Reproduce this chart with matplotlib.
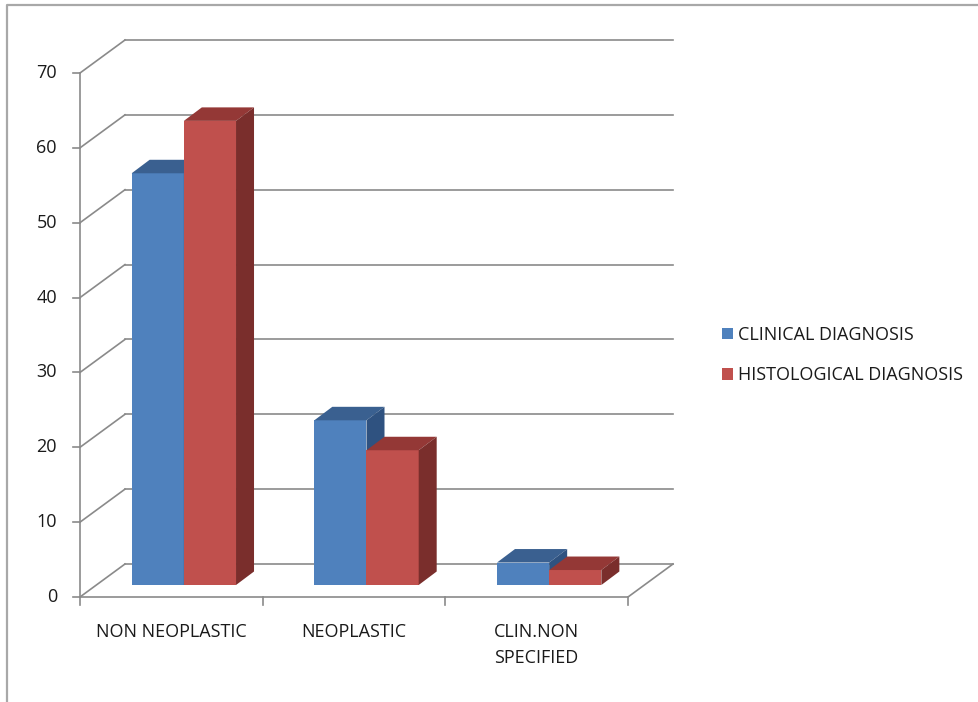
import matplotlib.pyplot as plt
from matplotlib.patches import Rectangle, Polygon, Patch
from matplotlib.lines import Line2D

# data
categories = ['NON NEOPLASTIC', 'NEOPLASTIC', 'CLIN.NON\nSPECIFIED']
clinical = [55, 22, 3]
histological = [62, 18, 2]
series_names = ['CLINICAL DIAGNOSIS', 'HISTOLOGICAL DIAGNOSIS']
y_ticks = [0, 10, 20, 30, 40, 50, 60, 70]

plt.rcParams['font.family'] = ['Open Sans', 'DejaVu Sans']

W, H = 979, 702
fig = plt.figure(figsize=(W / 100, H / 100), dpi=100)
ax = fig.add_axes([0, 0, 1, 1])

# pixel layout of the front plane: x axis 80..628 px, y axis 0..70 -> 597..73 px
sx = 548 / 3.0
sy = 524 / 70.0
ax.set_xlim(-80 / sx, (W - 80) / sx)
ax.set_ylim(-(H - 597) / sy, 70 + 73 / sy)
ax.axis('off')

# depth of the 3D box and of the bars, in data units
DX, DY = 45 / sx, 33 / sy
ox, oy = 12.5 / sx, 12 / sy
bx, by = 18 / sx, 13.5 / sy

grid_col = '#8a8a8a'
txt_col = '#1a1a1a'
lw = 1.2
fs = 13

# walls: gridlines on back wall and left wall
for v in y_ticks:
    ax.plot([DX, 3 + DX], [v + DY, v + DY], color=grid_col, lw=lw, zorder=1)
    ax.plot([0, DX], [v, v + DY], color=grid_col, lw=lw, zorder=1)
    ax.plot([-7 / sx, 0], [v, v], color=grid_col, lw=lw, zorder=1)
    ax.text(-23 / sx, v, str(v), ha='right', va='center', fontsize=fs, color=txt_col)

ax.plot([0, 0], [0, 70], color=grid_col, lw=lw, zorder=1)
# floor
ax.plot([0, 3, 3 + DX], [0, 0, DY], color=grid_col, lw=lw, zorder=1)
for i in range(4):
    ax.plot([i, i], [0, -8 / sy], color=grid_col, lw=lw, zorder=1)

for i, cat in enumerate(categories):
    ax.text(i + 0.5, -26 / sy, cat, ha='center', va='top', fontsize=fs,
            color=txt_col, linespacing=1.6)


def bar3d(x0, w, h, front, top, side):
    ax.add_patch(Rectangle((x0 + ox, oy), w, h, facecolor=front, edgecolor='none', zorder=3))
    ax.add_patch(Polygon([(x0 + ox, oy + h), (x0 + w + ox, oy + h),
                          (x0 + w + ox + bx, oy + h + by), (x0 + ox + bx, oy + h + by)],
                         closed=True, facecolor=top, edgecolor='none', zorder=3))
    ax.add_patch(Polygon([(x0 + w + ox, oy), (x0 + w + ox + bx, oy + by),
                          (x0 + w + ox + bx, oy + h + by), (x0 + w + ox, oy + h)],
                         closed=True, facecolor=side, edgecolor='none', zorder=3))


bw = 1 / 3.5  # gap width 150%
blue = ('#4f81bd', '#3a6090', '#2f5280')
red = ('#c0504d', '#943836', '#7a2e2c')
for i in range(len(categories)):
    bar3d(i + 0.5 - bw, bw, clinical[i], *blue)
    bar3d(i + 0.5, bw, histological[i], *red)

handles = [Patch(facecolor=blue[0]), Patch(facecolor=red[0])]
fig.legend(handles, series_names, loc='center left',
           bbox_to_anchor=(706 / W, 1 - 355 / H), frameon=False,
           handlelength=0.6, handleheight=0.6, handletextpad=0.3,
           labelspacing=1.25, fontsize=fs, labelcolor=txt_col)

# outer chart border
fig.add_artist(Line2D([7 / W, 7 / W, 1], [0, 1 - 5 / H, 1 - 5 / H],
                      color='#a8a8a8', lw=1.6, transform=fig.transFigure))

fig.savefig('out.png', dpi=100)
